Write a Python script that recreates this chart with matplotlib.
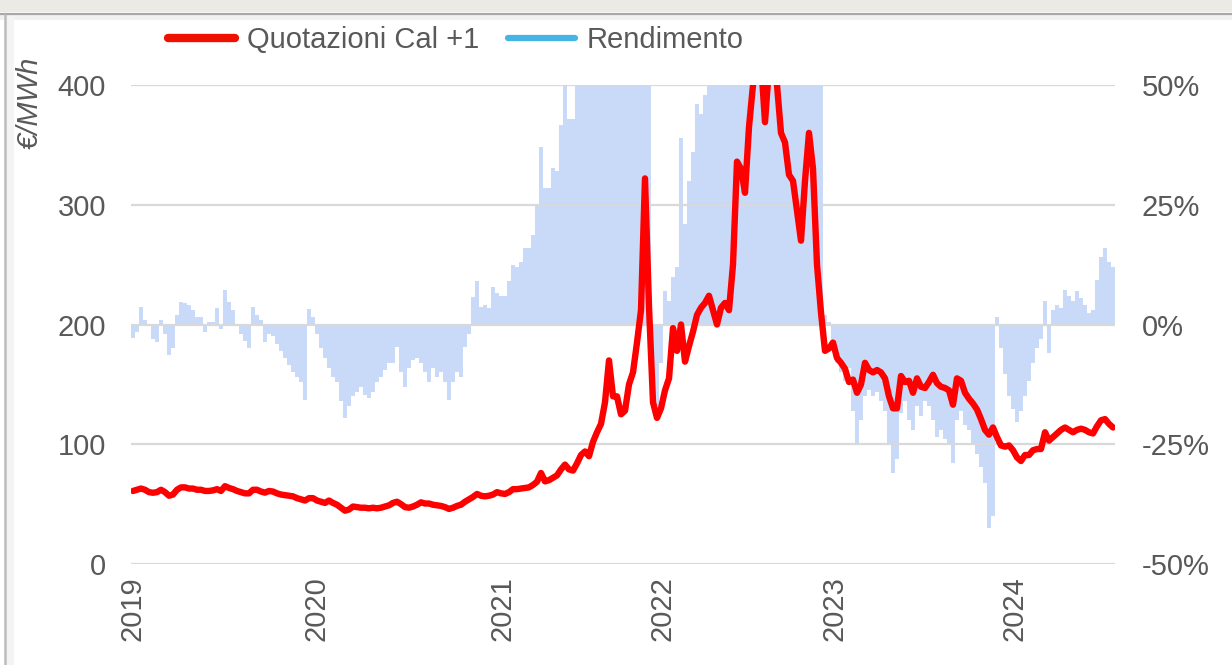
import matplotlib
matplotlib.use("Agg")
import matplotlib.pyplot as plt
from matplotlib.lines import Line2D
from matplotlib.patches import Rectangle

# ---------------- data (weekly-ish samples, index positions) ----------------
year_labels = ["2019", "2020", "2021", "2022", "2023", "2024"]
year_tick_pos = [0, 45.75, 92.25, 132.25, 175.25, 220.5]

price = [
    61, 62, 63, 62, 60, 59.5, 60, 62, 60, 57,
    58, 62, 64, 64, 63, 63, 62, 62, 61, 61,
    61.5, 62.5, 61, 65, 63.5, 62.5, 61, 60, 59, 59,
    62, 62, 60.5, 59.6, 61, 60.5, 59, 58, 57.5, 57,
    56.5, 55, 54, 53, 55, 55, 53, 52, 51, 53,
    51, 49.5, 47, 44.5, 45.5, 48, 47.5, 47, 47, 46.5,
    47, 46.5, 47, 48, 49, 51, 52, 50, 47.5, 47,
    48, 49.5, 51.5, 50.5, 50.5, 49.5, 49, 48.5, 47.5, 46,
    47, 48.5, 49.5, 52, 54, 56, 58.5, 57, 56.5, 57,
    58, 60, 59, 58.5, 60, 62.5, 62.5, 63, 63.5, 64,
    66, 68.7, 76, 69, 70, 72, 74, 79, 83, 79,
    78, 84, 91, 94, 90, 102, 110, 117, 135, 170,
    140, 140, 125, 128, 150, 160, 185, 212, 322, 215,
    135, 122, 130, 145, 155, 197, 178, 200, 169, 182,
    194, 208, 214, 218, 224, 212, 200, 214, 218, 212,
    250, 336, 330, 310, 365, 400, 430, 420, 369, 415,
    435, 400, 360, 352, 325, 320, 295, 270, 320, 360,
    330, 250, 210, 178, 180, 185, 172, 168, 163, 152,
    154, 143, 150, 168, 162, 160, 162, 160, 155, 140,
    130, 130, 157, 152, 153, 143, 155, 148, 147, 152,
    158, 151, 148, 147, 145, 133, 155, 153, 143, 138,
    134, 129, 121, 112, 108, 114, 106, 99, 98, 99,
    95, 89, 86, 91, 91, 95, 96, 96, 110, 103,
    106, 109, 112, 114, 112, 110, 112, 113, 112, 110,
    109, 115, 120, 121, 117, 114,
]

rendimento = [
    -2.8, -1.5, 3.7, 1, 0, -3, -3.6, 1, -2, -6.4,
    -5, 2, 4.8, 4.5, 4, 3, 1.5, 1.5, -1.5, 0.5,
    0.5, 3.4, -1, 7.2, 4.8, 3, 0, -2, -3.5, -5,
    3.7, 2, 1, -3.6, -2, -2.5, -4, -5.5, -7, -8.5,
    -10, -11, -12, -15.8, 3.2, 1.5, -2, -5, -7, -9,
    -11, -12, -16, -19.5, -17, -15, -14, -13, -14.7, -15.4,
    -14, -12, -11, -9.5, -8, -8, -4.6, -10, -13, -9,
    -7.4, -7, -8, -10, -12, -9, -11, -10, -12, -15.8,
    -12, -10, -11, -4.6, -2, 5.8, 9, 3.7, 4, 3.5,
    7.9, 6.5, 6, 6, 9, 12.4, 12, 13, 16, 16,
    18.7, 25, 37, 28.5, 28.5, 32.7, 32, 41.7, 52, 43,
    43, 55, 60, 62, 65, 70, 75, 80, 90, 110,
    95, 100, 90, 95, 105, 110, 120, 140, 250, 130,
    -15, -17, -8, 7, 5, 10, 12, 39, 21, 30,
    36, 46, 44, 48, 55, 60, 65, 62, 70, 75,
    110, 180, 170, 160, 200, 230, 280, 260, 200, 250,
    270, 220, 190, 180, 150, 140, 120, 110, 140, 170,
    140, 80, 60, 2, 0.5, -3, -8, -10, -11.7, -9,
    -18, -24.7, -20, -15, -13.7, -15, -14, -16, -18, -25,
    -31, -28, -18.5, -16, -20, -22, -17, -19, -16, -17,
    -20, -23.5, -22, -24, -25, -29, -20, -18, -21, -22,
    -25, -27, -29.7, -33, -42.5, -40, 1.5, -5, -10.4, -15,
    -17.6, -20.4, -18, -15, -11.7, -8, -5, -3, 5, -6,
    3, 4, 3.5, 7.2, 6, 5, 7, 5.5, 4, 2.5,
    3, 9.3, 14, 16, 13, 12,
]

left_ticks = [0, 100, 200, 300, 400]
right_ticks = [-50, -25, 0, 25, 50]
right_tick_labels = ["-50%", "-25%", "0%", "25%", "50%"]

series_names = ["Quotazioni Cal +1", "Rendimento"]

# ---------------- styling ----------------
plt.rcParams["font.family"] = ["Liberation Sans", "DejaVu Sans"]
TXT = "#595959"
FS = 21

W, H = 1232, 665
fig = plt.figure(figsize=(W / 100, H / 100), dpi=100)

# frame decorations (cut-off header & border)
fig.patches.append(Rectangle((0, 1 - 12 / H), 1, 12 / H, transform=fig.transFigure,
                             facecolor="#ebeae5", edgecolor="none", zorder=0))
fig.patches.append(Rectangle((0, 1 - 20 / H), 1, 6 / H, transform=fig.transFigure,
                             facecolor="#f1f1f1", edgecolor="none", zorder=0))
fig.add_artist(Line2D([0, 1], [1 - 14 / H, 1 - 14 / H], transform=fig.transFigure,
                      color="#a8a8a8", lw=1.6))
fig.add_artist(Line2D([5 / W, 5 / W], [0, 1 - 15 / H], transform=fig.transFigure,
                      color="#bdbdbd", lw=1.8))
fig.patches.append(Rectangle((6 / W, 0), 8 / W, 1 - 16 / H, transform=fig.transFigure,
                             facecolor="#f4f4f4", edgecolor="none", zorder=0))

x0, x1 = 131, 1115
ax = fig.add_axes([x0 / W, 1 - 564 / H, (x1 - x0) / W, (564 - 85) / H])
ax2 = ax.twinx()

n = len(price)
xs = list(range(n))

ax2.bar(xs, rendimento, width=0.82, color="#c8daf8", linewidth=0, zorder=1)
ax2.set_ylim(-50, 50)

ax.set_zorder(ax2.get_zorder() + 1)
ax.patch.set_visible(False)
ax.plot(xs, price, color="#ff0000", lw=4.6, solid_joinstyle="round",
        solid_capstyle="round", zorder=3)
ax.set_ylim(0, 400)
ax.set_xlim(-0.5, n - 0.5)

ax.set_yticks(left_ticks)
ax.set_yticklabels([str(v) for v in left_ticks])
ax2.set_yticks(right_ticks)
ax2.set_yticklabels(right_tick_labels)

ax.grid(axis="y", color="#d9d9d9", lw=1.6, zorder=0)
ax.set_axisbelow(True)

ax.set_xticks(year_tick_pos)
ax.set_xticklabels(year_labels, rotation=90)

for a in (ax, ax2):
    for s in a.spines.values():
        s.set_visible(False)
ax.tick_params(axis="y", length=0, pad=18, labelsize=FS, labelcolor=TXT)
ax2.tick_params(axis="y", length=0, pad=19, labelsize=FS, labelcolor=TXT)
ax.tick_params(axis="x", length=0, pad=9, labelsize=FS, labelcolor=TXT)
ax2.tick_params(axis="x", length=0)

fig.text(30 / W, 1 - 103 / H, "€/MWh", rotation=90, ha="center", va="center",
         fontsize=FS, style="italic", color=TXT)

handles = [Line2D([], [], color="#ee1100", lw=6, solid_capstyle="round"),
           Line2D([], [], color="#45b5e6", lw=4.5, solid_capstyle="round")]
fig.legend(handles, series_names, loc="center", bbox_to_anchor=(456 / W, 1 - 40 / H),
           ncol=2, frameon=False, fontsize=FS, labelcolor=TXT,
           handlelength=2.3, handletextpad=0.4, columnspacing=1.0)

fig.savefig("out.png", dpi=100)
